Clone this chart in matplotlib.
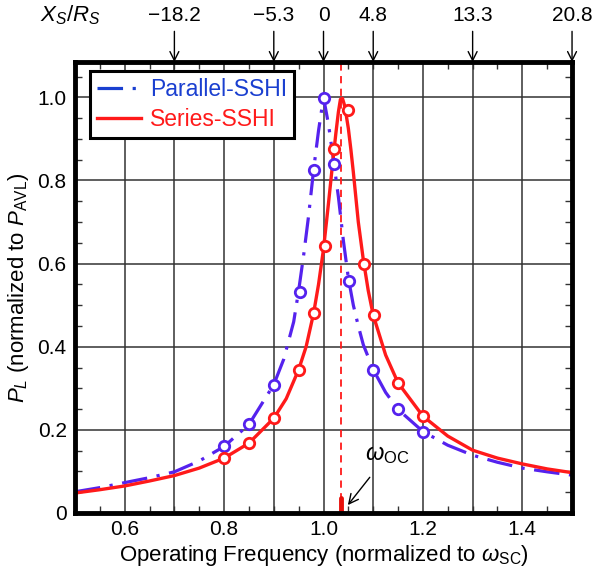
import matplotlib
matplotlib.use('Agg')
import matplotlib.pyplot as plt
from matplotlib.ticker import MultipleLocator, FixedLocator

plt.rcParams['font.family'] = ['Liberation Sans', 'DejaVu Sans']
plt.rcParams['mathtext.fontset'] = 'custom'
plt.rcParams['mathtext.rm'] = 'Liberation Sans'
plt.rcParams['mathtext.it'] = 'Liberation Sans:italic'

# curves
freq_ser = [0.5, 0.55, 0.6, 0.65, 0.7, 0.75, 0.8, 0.85, 0.9, 0.925, 0.95, 0.965,
            0.98, 0.99, 1.0, 1.01, 1.02, 1.025, 1.03, 1.034, 1.038, 1.042, 1.046,
            1.05, 1.055, 1.06, 1.07, 1.08, 1.09, 1.1, 1.125, 1.15, 1.2, 1.25, 1.3,
            1.35, 1.4, 1.45, 1.5]
pl_ser = [0.048, 0.056, 0.065, 0.077, 0.090, 0.108, 0.132, 0.168, 0.228, 0.275,
          0.345, 0.40, 0.48, 0.55, 0.635, 0.745, 0.86, 0.915, 0.965, 0.995, 0.998,
          0.982, 0.955, 0.925, 0.875, 0.82, 0.70, 0.61, 0.535, 0.476, 0.38, 0.313,
          0.233, 0.185, 0.151, 0.132, 0.118, 0.106, 0.097]

freq_par = [0.5, 0.55, 0.6, 0.65, 0.7, 0.75, 0.8, 0.85, 0.9, 0.92, 0.94, 0.95,
            0.96, 0.97, 0.98, 0.99, 1.0, 1.01, 1.02, 1.03, 1.04, 1.05, 1.06, 1.07,
            1.08, 1.09, 1.1, 1.125, 1.15, 1.2, 1.25, 1.3, 1.35, 1.4, 1.45, 1.5]
pl_par = [0.051, 0.061, 0.073, 0.085, 0.099, 0.125, 0.16, 0.213, 0.309, 0.37,
          0.46, 0.535, 0.62, 0.715, 0.825, 0.92, 1.0, 0.935, 0.85, 0.76, 0.655,
          0.565, 0.50, 0.45, 0.405, 0.375, 0.345, 0.29, 0.249, 0.196, 0.163,
          0.139, 0.122, 0.108, 0.099, 0.091]

# measured points (open circles)
mx_ser = [0.8, 0.85, 0.9, 0.95, 0.981, 1.002, 1.021, 1.05, 1.082, 1.102, 1.15, 1.2]
my_ser = [0.132, 0.168, 0.228, 0.345, 0.481, 0.643, 0.876, 0.970, 0.600, 0.476, 0.313, 0.233]
mx_par = [0.8, 0.85, 0.9, 0.952, 0.98, 1.0, 1.022, 1.051, 1.1, 1.15, 1.2]
my_par = [0.16, 0.213, 0.309, 0.531, 0.825, 0.998, 0.839, 0.558, 0.345, 0.249, 0.196]

# top axis: X_S/R_S values at given frequencies
top_freq = [0.7, 0.9, 1.0, 1.1, 1.3, 1.5]
top_labels = ['\u221218.2', '\u22125.3', '0', '4.8', '13.3', '20.8']

w_oc = 1.035

blue = '#5522ee'
red = '#ff1a1a'

fig = plt.figure(figsize=(5.96, 5.78), dpi=100)
ax = fig.add_axes([0.1258, 0.1125, 0.834, 0.7802])

ax.plot(freq_par, pl_par, color=blue, lw=2.3, dashes=(8, 3, 1, 3), label='Parallel-SSHI', zorder=4)
ax.plot(freq_ser, pl_ser, color=red, lw=2.4, label='Series-SSHI', zorder=5)
ax.plot(mx_par, my_par, 'o', ms=7.5, mfc='white', mec=blue, mew=2, zorder=6)
ax.plot(mx_ser, my_ser, 'o', ms=7.5, mfc='white', mec=red, mew=2, zorder=7)

ax.axvline(w_oc, color=red, lw=1.3, ls=(0, (4, 3)), zorder=3)
ax.plot([w_oc, w_oc], [0.005, 0.035], color='#e8100a', lw=3.5, solid_capstyle='round', zorder=8)

ax.annotate(r'$\omega_{\rm OC}$', xy=(1.049, 0.019), xytext=(1.084, 0.14),
            fontsize=17, ha='left', va='center',
            arrowprops=dict(arrowstyle='->', color='black', lw=1, shrinkA=8, shrinkB=0))

ax.set_xlim(0.5, 1.5)
ax.set_ylim(0, 1.085)
ax.xaxis.set_major_locator(FixedLocator([0.6, 0.8, 1.0, 1.2, 1.4]))
ax.xaxis.set_minor_locator(MultipleLocator(0.05))
ax.yaxis.set_major_locator(FixedLocator([0, 0.2, 0.4, 0.6, 0.8, 1.0]))
ax.yaxis.set_minor_locator(MultipleLocator(0.05))
ax.set_xticklabels(['0.6', '0.8', '1.0', '1.2', '1.4'])
ax.set_yticklabels(['0', '0.2', '0.4', '0.6', '0.8', '1.0'])
ax.tick_params(which='both', direction='in', top=True, right=True, labelsize=15)
ax.tick_params(axis='x', pad=5)
ax.tick_params(axis='y', pad=6)
ax.tick_params(which='major', length=0)
ax.tick_params(which='minor', length=5, width=1, color='#333333')

for gx in [0.6, 0.7, 0.8, 0.9, 1.0, 1.1, 1.2, 1.3, 1.4]:
    ax.axvline(gx, color='#333333', lw=1.1, zorder=1)
for gy in [0.2, 0.4, 0.6, 0.8, 1.0]:
    ax.axhline(gy, color='#333333', lw=1.1, zorder=1)

for s in ax.spines.values():
    s.set_linewidth(3.5)
    s.set_zorder(10)

ax.set_xlabel(r'Operating Frequency (normalized to $\omega_{\rm SC}$)', fontsize=16, labelpad=3)
ax.set_ylabel(r'$P_L$ (normalized to $P_{\rm AVL}$)', fontsize=16, labelpad=5)

for f, lab in zip(top_freq, top_labels):
    ax.annotate('', xy=(f, 1.0), xycoords=('data', 'axes fraction'),
                xytext=(f, 1.068), textcoords=('data', 'axes fraction'),
                arrowprops=dict(arrowstyle='->', color='black', lw=1, shrinkA=0, shrinkB=0,
                                mutation_scale=16))
    ax.text(f, 1.104, lab, transform=ax.get_xaxis_transform(), ha='center', va='center', fontsize=15)
ax.text(0.49, 1.104, r'$X_S/R_S$', transform=ax.get_xaxis_transform(), ha='center', va='center', fontsize=16)

leg = ax.legend(loc='upper left', bbox_to_anchor=(0.022, 0.99), fontsize=16.5, handlelength=1.9,
                handletextpad=0.4, borderpad=0.3, labelspacing=0.3, borderaxespad=0.2,
                fancybox=False, edgecolor='black', framealpha=1)
leg.get_frame().set_linewidth(2.2)
leg.set_zorder(12)
for t, c in zip(leg.get_texts(), ['#1a3fd0', red]):
    t.set_color(c)
leg.get_lines()[0].set_color('#1a3fd0')

fig.savefig('out.png', dpi=100)
